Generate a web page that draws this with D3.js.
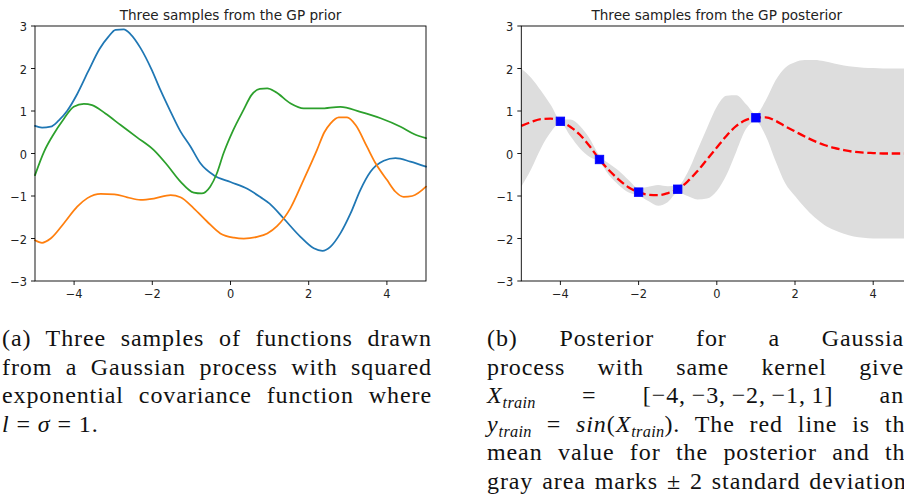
<!DOCTYPE html>
<html>
<head>
<meta charset="utf-8">
<script src="https://cdn.jsdelivr.net/npm/d3@7"></script>
<style>
  html, body { margin: 0; padding: 0; background: #fff; }
  body { width: 904px; height: 496px; overflow: hidden; position: relative; }
  svg { position: absolute; left: 0; top: 0; }
  .caption { position: absolute; width: 430px; font-family: "Liberation Serif", "Times New Roman", serif;
             font-size: 24px; letter-spacing: 0.9px; line-height: 28.6px; color: #111; white-space: nowrap; }
  .caption .ln { text-align: justify; text-align-last: justify; height: 28.6px; }
  .caption .ln.last { text-align-last: left; }
  .caption sub { font-size: 0.68em; letter-spacing: 0.3px; vertical-align: -0.3em; line-height: 0; }
  .caption .nb { white-space: nowrap; }
</style>
</head>
<body>
<svg id="chart" width="904" height="496"></svg>
<div class="caption" id="capA" style="left:2px; top:324px;"></div>
<div class="caption" id="capB" style="left:487px; top:324px;"></div>
<script>
// ---- prior samples: [x, f(x)] ----
const priorBlue = [
  [-5,0.65],[-4.82,0.61],[-4.6,0.63],[-4.39,0.78],[-4.18,1.0],[-3.92,1.4],[-3.64,1.93],
  [-3.35,2.46],[-3.12,2.75],[-2.94,2.91],[-2.73,2.92],[-2.56,2.81],[-2.3,2.48],[-2.02,1.98],
  [-1.79,1.49],[-1.53,0.98],[-1.28,0.52],[-1.02,0.16],[-0.77,-0.23],[-0.43,-0.51],
  [0,-0.67],[0.43,-0.83],[0.77,-1.03],[1.0,-1.18],[1.36,-1.53],[1.79,-1.96],[2.13,-2.23],
  [2.35,-2.29],[2.56,-2.19],[2.81,-1.88],[3.07,-1.41],[3.32,-0.86],[3.58,-0.43],
  [3.92,-0.17],[4.22,-0.11],[4.6,-0.19],[5,-0.31]
];
const priorOrange = [
  [-5,-2.04],[-4.82,-2.1],[-4.6,-2.0],[-4.26,-1.64],[-3.92,-1.25],[-3.66,-1.05],[-3.32,-0.95],
  [-2.97,-0.96],[-2.64,-1.03],[-2.3,-1.09],[-1.96,-1.06],[-1.53,-0.98],[-1.28,-1.03],
  [-0.94,-1.29],[-0.6,-1.6],[-0.26,-1.88],[0.09,-1.98],[0.34,-2.0],[0.68,-1.96],[0.94,-1.88],
  [1.19,-1.71],[1.53,-1.29],[1.87,-0.62],[2.21,0.08],[2.4,0.5],[2.56,0.71],[2.77,0.85],
  [2.98,0.85],[3.2,0.67],[3.49,0.16],[3.71,-0.23],[4.0,-0.62],[4.22,-0.9],[4.43,-1.02],
  [4.65,-1.0],[5,-0.78]
];
const priorGreen = [
  [-5,-0.51],[-4.77,0.04],[-4.56,0.4],[-4.26,0.82],[-4.01,1.1],[-3.75,1.17],[-3.54,1.14],
  [-3.2,0.94],[-2.81,0.67],[-2.39,0.38],[-1.96,0.08],[-1.62,-0.27],[-1.28,-0.66],
  [-0.94,-0.92],[-0.74,-0.94],[-0.52,-0.78],[-0.35,-0.47],[-0.18,0.0],[0.07,0.55],
  [0.33,1.02],[0.54,1.38],[0.75,1.52],[0.94,1.53],[1.15,1.45],[1.53,1.18],[1.87,1.06],
  [2.3,1.06],[2.81,1.1],[3.32,0.98],[3.84,0.83],[4.35,0.63],[4.69,0.46],[5,0.36]
];

// ---- posterior: training data, mean and ±2σ band on a common grid ----
const trainX = [-4, -3, -2, -1, 1];
const trainY = [0.757, -0.141, -0.909, -0.841, 0.841];
const postX = [-5,-4.75,-4.5,-4.25,-4,-3.75,-3.5,-3.25,-3,-2.75,-2.5,-2.25,-2,-1.75,-1.5,-1.25,-1,
  -0.75,-0.5,-0.25,0,0.25,0.5,0.75,1,1.25,1.5,1.75,2,2.25,2.5,2.75,3,3.25,3.5,3.75,4,4.25,4.5,4.75,5];
const postMean = [0.65,0.74,0.81,0.82,0.76,0.63,0.44,0.17,-0.14,-0.40,-0.62,-0.80,-0.91,-0.97,-0.98,
  -0.93,-0.84,-0.66,-0.42,-0.14,0.14,0.42,0.65,0.79,0.84,0.85,0.77,0.64,0.52,0.40,0.29,0.20,0.13,
  0.08,0.04,0.02,0.01,0.0,0.0,0.0,0.0];
const postUpper = [2.0,1.78,1.48,1.15,0.80,0.80,0.65,0.35,-0.05,-0.24,-0.41,-0.63,-0.82,-0.78,-0.74,
  -0.77,-0.76,-0.45,0.07,0.6,1.1,1.36,1.37,1.16,0.93,1.25,1.72,2.02,2.15,2.2,2.2,2.17,2.12,2.07,
  2.04,2.02,2.01,2.0,2.0,2.0,2.0];
const postLower = [-0.78,-0.37,0.12,0.5,0.72,0.42,0.12,-0.08,-0.2,-0.52,-0.75,-0.92,-0.99,-1.12,
  -1.23,-1.14,-0.92,-1.0,-1.08,-1.06,-0.88,-0.5,0.05,0.58,0.76,0.42,-0.17,-0.7,-1.0,-1.27,-1.5,
  -1.68,-1.80,-1.89,-1.95,-1.98,-2.0,-2.0,-2.0,-2.0,-2.0];

const xTicks = [-4, -2, 0, 2, 4];
const yTicks = [-3, -2, -1, 0, 1, 2, 3];
const titles = ["Three samples from the GP prior", "Three samples from the GP posterior"];
const sampleColors = ["#1f77b4", "#ff7f0e", "#2ca02c"];

const svg = d3.select("#chart");
const plotW = 391, plotTop = 26, plotBottom = 281;
const panelLefts = [35, 521.3];
const fmt = d => (d < 0 ? "\u2212" + Math.abs(d) : String(d));

function makeAxes(g, x, y, title) {
  const xr = x.range(), yr = y.range();
  // ticks and labels
  g.append("g").selectAll("line").data(xTicks).join("line")
    .attr("x1", d => x(d)).attr("x2", d => x(d))
    .attr("y1", yr[0]).attr("y2", yr[0] + 4)
    .attr("stroke", "#000").attr("stroke-width", 0.9);
  g.append("g").selectAll("text").data(xTicks).join("text")
    .attr("x", d => x(d)).attr("y", yr[0] + 16.5)
    .attr("text-anchor", "middle")
    .attr("font-family", "DejaVu Sans").attr("font-size", 11.4).attr("fill", "#222")
    .text(fmt);
  g.append("g").selectAll("line").data(yTicks).join("line")
    .attr("x1", xr[0] - 4).attr("x2", xr[0])
    .attr("y1", d => y(d)).attr("y2", d => y(d))
    .attr("stroke", "#000").attr("stroke-width", 0.9);
  g.append("g").selectAll("text").data(yTicks).join("text")
    .attr("x", xr[0] - 8).attr("y", d => y(d) + 5)
    .attr("text-anchor", "end")
    .attr("font-family", "DejaVu Sans").attr("font-size", 11.4).attr("fill", "#222")
    .text(fmt);
  // frame
  g.append("rect")
    .attr("x", xr[0]).attr("y", yr[1]).attr("width", xr[1] - xr[0]).attr("height", yr[0] - yr[1])
    .attr("fill", "none").attr("stroke", "#000").attr("stroke-width", 0.9);
  // title
  g.append("text")
    .attr("x", (xr[0] + xr[1]) / 2).attr("y", 19.5)
    .attr("text-anchor", "middle")
    .attr("font-family", "DejaVu Sans").attr("font-size", 13.6).attr("fill", "#222")
    .text(title);
}

// ---- left: prior samples ----
{
  const x = d3.scaleLinear().domain([-5, 5]).range([panelLefts[0], panelLefts[0] + plotW]);
  const y = d3.scaleLinear().domain([-3, 3]).range([plotBottom, plotTop]);
  const g = svg.append("g");
  const line = d3.line().x(d => x(d[0])).y(d => y(d[1])).curve(d3.curveMonotoneX);
  [priorBlue, priorOrange, priorGreen].forEach((s, i) => {
    g.append("path").attr("d", line(s)).attr("fill", "none")
      .attr("stroke", sampleColors[i]).attr("stroke-width", 1.75)
      .attr("stroke-linejoin", "round").attr("stroke-linecap", "round");
  });
  makeAxes(g, x, y, titles[0]);
}

// ---- right: posterior mean, band and training points ----
{
  const x = d3.scaleLinear().domain([-5, 5]).range([panelLefts[1], panelLefts[1] + plotW]);
  const y = d3.scaleLinear().domain([-3, 3]).range([plotBottom, plotTop]);
  const g = svg.append("g");
  const idx = d3.range(postX.length);
  const area = d3.area()
    .x(i => x(postX[i])).y0(i => y(postLower[i])).y1(i => y(postUpper[i]))
    .curve(d3.curveMonotoneX);
  g.append("path").attr("d", area(idx)).attr("fill", "#dddddd");
  const mean = d3.line().x(i => x(postX[i])).y(i => y(postMean[i])).curve(d3.curveMonotoneX);
  g.append("path").attr("d", mean(idx)).attr("fill", "none")
    .attr("stroke", "#ff0000").attr("stroke-width", 2.3)
    .attr("stroke-dasharray", "8.5,3.7");
  const s = 8.5;
  g.append("g").selectAll("rect").data(trainX.map((d, i) => [d, trainY[i]])).join("rect")
    .attr("x", d => x(d[0]) - s / 2).attr("y", d => y(d[1]) - s / 2)
    .attr("width", s).attr("height", s)
    .attr("fill", "#0000ff").attr("stroke", "#0000ff").attr("stroke-width", 0.8);
  makeAxes(g, x, y, titles[1]);
}

// ---- captions ----
const capALines = [
  "(a) Three samples of functions drawn",
  "from a Gaussian process with squared",
  "exponential covariance function where",
  "<i>l</i> = <i>σ</i> = 1."
];
const capBLines = [
  "(b) Posterior for a Gaussian",
  "process with same kernel given",
  "<i>X<sub>train</sub></i> = <span class='nb'>[\u22124,\u2009\u22123,\u2009\u22122,\u2009\u22121,\u20091]</span> and",
  "<i>y<sub>train</sub></i> = <span class='nb'><i>sin</i>(<i>X<sub>train</sub></i>).</span> The red line is the",
  "mean value for the posterior and the",
  "gray area marks ± 2 standard deviations"
];
d3.select("#capA").selectAll("div").data(capALines).join("div")
  .attr("class", (d, i) => i === capALines.length - 1 ? "ln last" : "ln")
  .html(d => d);
d3.select("#capB").selectAll("div").data(capBLines).join("div")
  .attr("class", "ln")
  .html(d => d);
</script>
</body>
</html>
